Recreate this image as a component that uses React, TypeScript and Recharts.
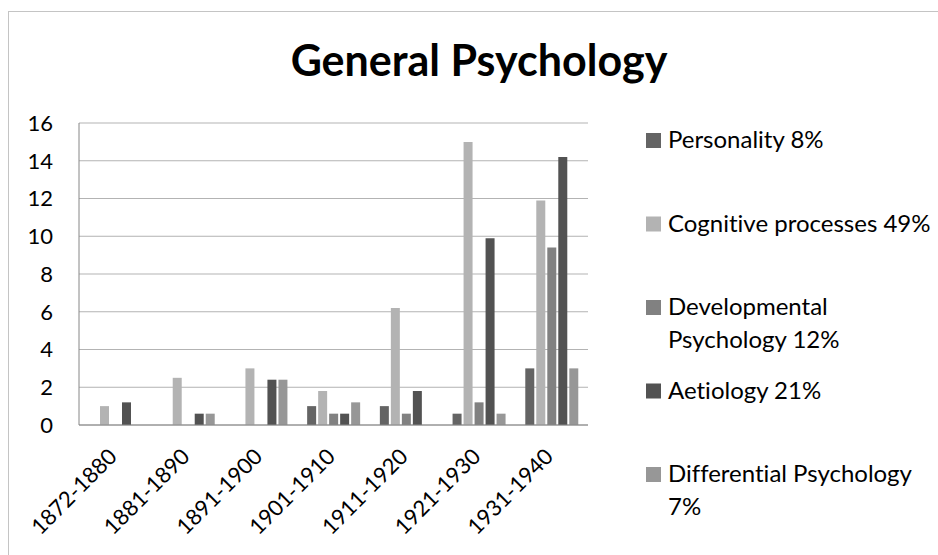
import React from 'react'
import { BarChart, Bar, XAxis, YAxis, CartesianGrid } from 'recharts'

const PERIODS = ['1872-1880', '1881-1890', '1891-1900', '1901-1910', '1911-1920', '1921-1930', '1931-1940']

const PERSONALITY = [0, 0, 0, 1.0, 1.0, 0.6, 3.0]
const COGNITIVE = [1.0, 2.5, 3.0, 1.8, 6.2, 15.0, 11.9]
const DEVELOPMENTAL = [0, 0, 0, 0.6, 0.6, 1.2, 9.4]
const AETIOLOGY = [1.2, 0.6, 2.4, 0.6, 1.8, 9.9, 14.2]
const DIFFERENTIAL = [0, 0.6, 2.4, 1.2, 0, 0.6, 3.0]

const Y_TICKS = [0, 2, 4, 6, 8, 10, 12, 14, 16]

const SERIES = [
  { key: 'personality', values: PERSONALITY, color: '#646464', legend: ['Personality 8%'] },
  { key: 'cognitive', values: COGNITIVE, color: '#b3b3b3', legend: ['Cognitive processes 49%'] },
  { key: 'developmental', values: DEVELOPMENTAL, color: '#818181', legend: ['Developmental', 'Psychology 12%'] },
  { key: 'aetiology', values: AETIOLOGY, color: '#525252', legend: ['Aetiology 21%'] },
  { key: 'differential', values: DIFFERENTIAL, color: '#979797', legend: ['Differential Psychology', '7%'] },
]

const FONT = 'Lato, "Open Sans", sans-serif'
const NO_LIGA = { fontVariantLigatures: 'none' as const }

const data = PERIODS.map((period, i) => {
  const row: Record<string, string | number> = { period }
  SERIES.forEach((s) => {
    row[s.key] = s.values[i]
  })
  return row
})

function PeriodTick({ x, y, payload }: any) {
  const tx = x + 3
  const ty = y + 33
  return (
    <text
      x={tx}
      y={ty}
      transform={`rotate(-45, ${tx}, ${ty})`}
      textAnchor="end"
      fontSize={22}
      fontFamily={FONT}
      fill="#000"
    >
      {payload.value}
    </text>
  )
}

export default function App() {
  return (
    <div style={{ position: 'absolute', left: 0, top: 0, width: 938, height: 555, background: '#fff', overflow: 'hidden' }}>
      <svg width={938} height={555} style={{ position: 'absolute', left: 0, top: 0, ...NO_LIGA }}>
        <rect x={8.5} y={11.5} width={950} height={560} fill="none" stroke="#c4c4c4" />
        <text x={479} y={76} textAnchor="middle" fontSize={43} fontWeight="bold" fontFamily={FONT} fill="#000">
          General Psychology
        </text>
        {SERIES.map((s, i) => {
          const base = 148 + i * 83.5
          return (
            <g key={s.key}>
              <rect x={646} y={base - 15} width={15} height={15} fill={s.color} />
              {s.legend.map((line, j) => (
                <text key={j} x={668} y={base + j * 32.5} fontSize={24} fontFamily={FONT} fill="#000">
                  {line}
                </text>
              ))}
            </g>
          )
        })}
      </svg>
      <div style={{ position: 'absolute', left: 0, top: 0, ...NO_LIGA }}>
        <BarChart
          width={938}
          height={555}
          data={data}
          margin={{ top: 123, right: 350, bottom: 0, left: 0 }}
          barCategoryGap={10}
          barGap={2}
        >
          <CartesianGrid vertical={false} stroke="#b3b3b3" />
          <XAxis
            dataKey="period"
            height={130}
            tickLine={false}
            tickSize={0}
            tickMargin={0}
            axisLine={{ stroke: '#868686' }}
            interval={0}
            tick={<PeriodTick />}
          />
          <YAxis
            width={79}
            domain={[0, 16]}
            ticks={Y_TICKS}
            tickLine={false}
            tickSize={0}
            tickMargin={26}
            axisLine={{ stroke: '#868686' }}
            tick={{ fontSize: 22, fontFamily: FONT, fill: '#000' }}
          />
          {SERIES.map((s) => (
            <Bar key={s.key} dataKey={s.key} fill={s.color} isAnimationActive={false} />
          ))}
        </BarChart>
      </div>
    </div>
  )
}
